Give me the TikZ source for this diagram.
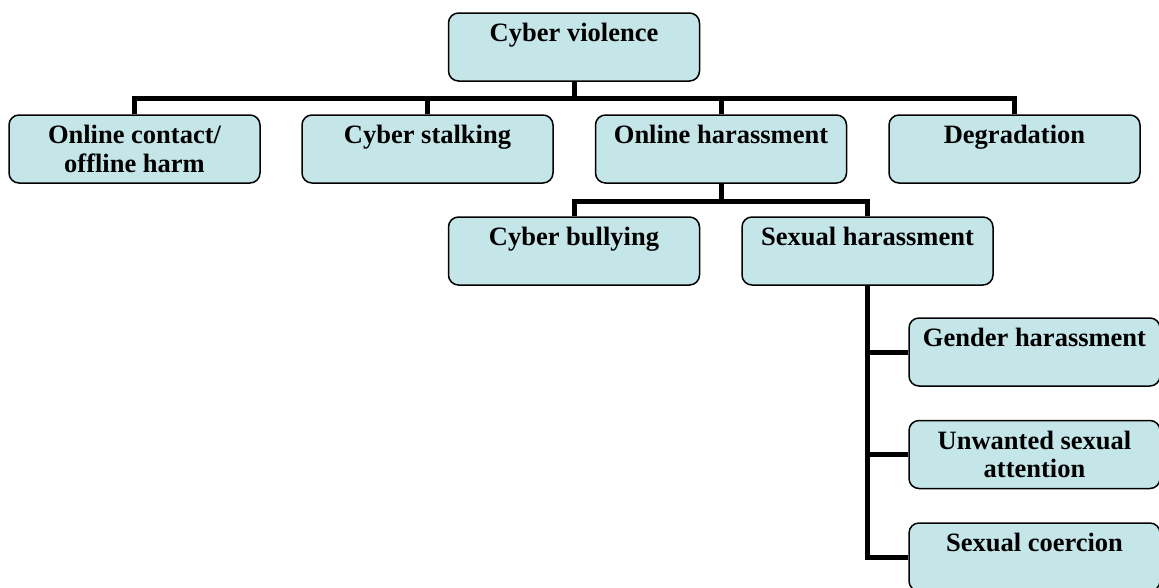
\documentclass[tikz,border=0pt]{standalone}
\usepackage{fontspec}
\setmainfont{Liberation Serif}
\usetikzlibrary{backgrounds}
\definecolor{boxfill}{RGB}{197,230,233}
\begin{document}
\begin{tikzpicture}[x=1pt,y=-1pt,
  box/.style={draw=black, line width=1.5pt, fill=boxfill, rounded corners=10pt,
    minimum width=251pt, minimum height=68pt, inner sep=0pt, align=center,
    font=\fontsize{26.5}{28.5}\selectfont\bfseries},
  conn/.style={draw=black, line width=5pt, line join=miter}]
\useasboundingbox (0,0) rectangle (1159,587);
\clip (0,0) rectangle (1159,587);
\node[box] (cv) at (574,47) {Cyber violence\\\mbox{}};
\node[box] (oc) at (134.5,149) {Online contact/\\offline harm};
\node[box] (cs) at (427.5,149) {Cyber stalking\\\mbox{}};
\node[box] (oh) at (721,149) {Online harassment\\\mbox{}};
\node[box] (dg) at (1014.5,149) {Degradation\\\mbox{}};
\node[box] (cb) at (574,251) {Cyber bullying\\\mbox{}};
\node[box] (sh) at (867.5,251) {Sexual harassment\\\mbox{}};
\node[box] (gh) at (1034.5,352) {Gender harassment\\\mbox{}};
\node[box] (uw) at (1034.5,454.5) {Unwanted sexual\\attention};
\node[box] (sc) at (1034.5,557) {Sexual coercion\\\mbox{}};
\begin{scope}[on background layer]
\path[conn] (cv.south) -- ++(0,17) -| (oc.north);
\path[conn] (cv.south) -- ++(0,17) -| (cs.north);
\path[conn] (cv.south) -- ++(0,17) -| (oh.north);
\path[conn] (cv.south) -- ++(0,17) -| (dg.north);
\path[conn] (oh.south) -- ++(0,18) -| (cb.north);
\path[conn] (oh.south) -- ++(0,18) -| (sh.north);
\path[conn] (sh.south) |- (gh.west);
\path[conn] (sh.south) |- (uw.west);
\path[conn] (sh.south) |- (sc.west);
\end{scope}
\end{tikzpicture}
\end{document}
